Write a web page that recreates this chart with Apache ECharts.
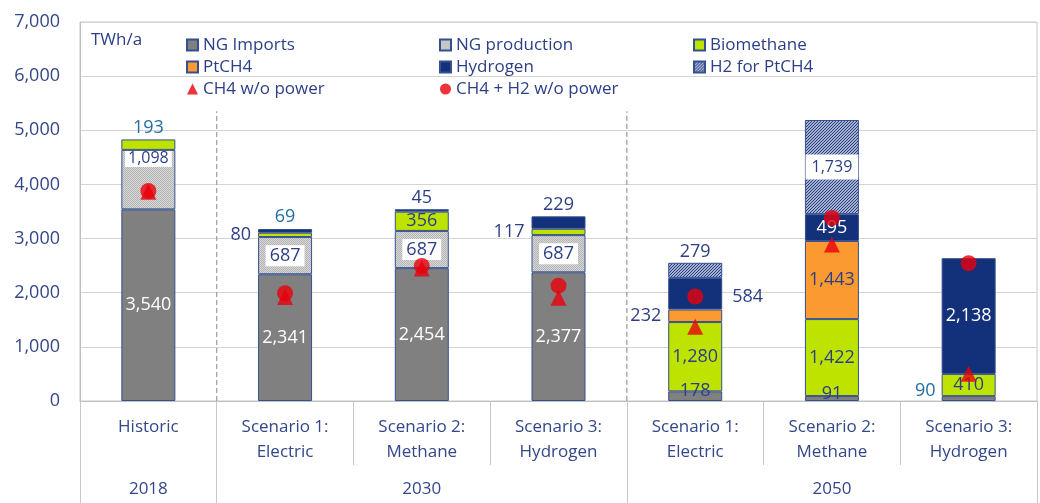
<!DOCTYPE html>
<html>
<head>
<meta charset="utf-8">
<script src="https://cdn.jsdelivr.net/npm/echarts@6/dist/echarts.min.js"></script>
<style>
  html, body { margin: 0; padding: 0; background: #fff; }
  #main { width: 1040px; height: 503px; }
</style>
</head>
<body>
<div id="main"></div>
<script>
// categories and year groups
var categories = ['Historic', 'Scenario 1:\nElectric', 'Scenario 2:\nMethane', 'Scenario 3:\nHydrogen',
                  'Scenario 1:\nElectric', 'Scenario 2:\nMethane', 'Scenario 3:\nHydrogen'];
var years = ['2018', '2030', '2050'];
var yearSizes = [1, 3, 3];
var separatorTop = 5350;

// stacked values, TWh/a (null = no segment)
var ngImports    = [3540, 2341, 2454, 2377, 178, 91, 90];
var ngProduction = [1098, 687, 687, 687, null, null, null];
var biomethane   = [193, 80, 356, 117, 1280, 1422, 410];
var ptch4        = [null, null, null, null, 232, 1443, null];
var hydrogen     = [null, 69, 45, 229, 584, 495, 2138];
var h2ForPtch4   = [null, null, null, null, 279, 1739, null];

// markers
var ch4WoPower   = [3865, 1920, 2445, 1905, 1370, 2890, 505];
var ch4H2WoPower = [3880, 1990, 2495, 2130, 1930, 3380, 2545];

// where each label sits
var labelPlace = {
  'NG Imports':    ['inWhite', 'inWhite', 'inWhite', 'inWhite', 'inLow', 'inLow', 'leftLowTeal'],
  'NG production': ['boxTop', 'box', 'box', 'box', null, null, null],
  'Biomethane':    ['topTeal', 'left', 'in', 'left', 'in', 'in', 'in'],
  'PtCH4':         [null, null, null, null, 'left', 'in', null],
  'Hydrogen':      [null, 'topTeal', 'top', 'top', 'right', 'inWhite', 'inWhite'],
  'H2 for PtCH4':  [null, null, null, null, 'top', 'boxBig', null]
};

var NAVY_TXT = '#2c3f86';
var TEAL_TXT = '#226fa6';
var AXIS_TXT = '#33478a';
var FONT = '"Open Sans", "Noto Sans", sans-serif';

var labelStyles = {
  inWhite:     {position: 'inside', color: '#fff', fontSize: 18},
  inLow:       {position: 'inside', color: NAVY_TXT, fontSize: 18, offset: [0, -5]},
  leftLowTeal: {position: 'left', distance: 6, color: TEAL_TXT, fontSize: 18, offset: [0, -8]},
  in:          {position: 'inside', color: NAVY_TXT, fontSize: 18},
  box:         {position: 'inside', color: NAVY_TXT, fontSize: 18, backgroundColor: '#fff', padding: [2, 4, 1, 4]},
  boxTop:      {position: 'insideTop', distance: 1, color: NAVY_TXT, fontSize: 16, backgroundColor: '#fff', padding: [0, 3, 0, 3]},
  boxBig:      {position: 'inside', color: NAVY_TXT, fontSize: 16, backgroundColor: '#fff', padding: [5, 6, 4, 6]},
  left:        {position: 'left', distance: 7, color: NAVY_TXT, fontSize: 18},
  right:       {position: 'right', distance: 10, color: NAVY_TXT, fontSize: 18, offset: [0, 3]},
  top:         {position: 'top', distance: 2, color: NAVY_TXT, fontSize: 18},
  topTeal:     {position: 'top', distance: 3, color: TEAL_TXT, fontSize: 18}
};

function fmt(v) {
  return Number(v).toLocaleString('en-US');
}

function dotPattern() {
  var c = document.createElement('canvas');
  c.width = 2; c.height = 2;
  var ctx = c.getContext('2d');
  ctx.fillStyle = '#d8d8d8'; ctx.fillRect(0, 0, 2, 2);
  ctx.fillStyle = '#b4b4b4'; ctx.fillRect(0, 0, 1, 1); ctx.fillRect(1, 1, 1, 1);
  return {image: c, repeat: 'repeat'};
}

function hatchPattern() {
  var c = document.createElement('canvas');
  c.width = 3; c.height = 3;
  var ctx = c.getContext('2d');
  ctx.fillStyle = '#dde2ee'; ctx.fillRect(0, 0, 3, 3);
  ctx.strokeStyle = '#233d82';
  ctx.lineWidth = 1.2;
  ctx.beginPath();
  ctx.moveTo(-1, 4); ctx.lineTo(4, -1);
  ctx.moveTo(-2, 2); ctx.lineTo(2, -2);
  ctx.moveTo(1, 5); ctx.lineTo(5, 1);
  ctx.stroke();
  return {image: c, repeat: 'repeat'};
}

function buildData(name, values) {
  return values.map(function (v, i) {
    var place = labelPlace[name][i];
    if (v == null) return null;
    var lab = {show: false};
    if (place) {
      lab = Object.assign({show: true, fontFamily: FONT, formatter: function (p) { return fmt(p.value); }}, labelStyles[place]);
    }
    return {value: v, label: lab};
  });
}

var barDefs = [
  {name: 'NG Imports', data: ngImports, color: '#808080'},
  {name: 'NG production', data: ngProduction, color: dotPattern()},
  {name: 'Biomethane', data: biomethane, color: '#bfe300'},
  {name: 'PtCH4', data: ptch4, color: '#fb9a30'},
  {name: 'Hydrogen', data: hydrogen, color: '#13307a'},
  {name: 'H2 for PtCH4', data: h2ForPtch4, color: hatchPattern()}
];

var series = barDefs.map(function (d) {
  return {
    name: d.name,
    type: 'bar',
    stack: 'total',
    barWidth: 54,
    itemStyle: {color: d.color, borderColor: '#35508f', borderWidth: 1},
    emphasis: {disabled: true},
    data: buildData(d.name, d.data)
  };
});

series.push({
  name: 'CH4 w/o power', type: 'scatter', symbol: 'triangle', symbolSize: 16,
  itemStyle: {color: '#e8000b'}, z: 5, data: ch4WoPower
});
series.push({
  name: 'CH4 + H2 w/o power', type: 'scatter', symbol: 'circle', symbolSize: 16,
  itemStyle: {color: '#e8000b'}, z: 6, data: ch4H2WoPower
});

// year row and group boundaries
var yearRow = [];
var groupStarts = [];
var pos = 0;
for (var g = 0; g < years.length; g++) {
  groupStarts.push(pos);
  for (var k = 0; k < yearSizes[g]; k++) {
    yearRow.push(k === Math.floor((yearSizes[g] - 1) / 2) ? years[g] : '');
  }
  pos += yearSizes[g];
}

// dashed separators between year groups
for (var s = 1; s < groupStarts.length; s++) {
  series.push({
    type: 'line', xAxisIndex: 2, yAxisIndex: 0, symbol: 'none', silent: true, z: 1,
    lineStyle: {color: '#9a9a9a', width: 1.2, type: [5, 3]},
    data: [[groupStarts[s], 0], [groupStarts[s], separatorTop]]
  });
}

var legendBase = {
  orient: 'vertical',
  itemWidth: 11,
  itemHeight: 11,
  itemGap: 0,
  padding: 0,
  selectedMode: false,
  textStyle: {color: NAVY_TXT, fontSize: 17, fontFamily: FONT, lineHeight: 22}
};

var option = {
  animation: false,
  textStyle: {fontFamily: FONT},
  title: {
    text: 'TWh/a', left: 86, top: 27,
    textStyle: {color: NAVY_TXT, fontSize: 17, fontWeight: 'normal', fontFamily: FONT}
  },
  legend: [
    Object.assign({left: 186, top: 34, data: [{name: 'NG Imports', icon: 'rect'}, {name: 'PtCH4', icon: 'rect'}, {name: 'CH4 w/o power', icon: 'triangle'}]}, legendBase),
    Object.assign({left: 439, top: 34, data: [{name: 'NG production', icon: 'rect'}, {name: 'Hydrogen', icon: 'rect'}, {name: 'CH4 + H2 w/o power', icon: 'circle'}]}, legendBase),
    Object.assign({left: 693, top: 34, data: [{name: 'Biomethane', icon: 'rect'}, {name: 'H2 for PtCH4', icon: 'rect'}]}, legendBase)
  ],
  grid: {
    left: 80, right: 3, top: 22, bottom: 102,
    show: true, borderColor: '#c8c8c8', borderWidth: 1
  },
  xAxis: [{
    type: 'category',
    data: categories,
    axisLine: {lineStyle: {color: '#bfbfbf'}},
    axisTick: {show: true, length: 64, interval: 0, lineStyle: {color: '#c8c8c8'}},
    axisLabel: {interval: 0, margin: 14, color: AXIS_TXT, fontSize: 17, lineHeight: 25, fontFamily: FONT}
  }, {
    type: 'category',
    position: 'bottom',
    data: yearRow,
    axisLine: {show: false},
    axisTick: {
      show: true, length: 102, lineStyle: {color: '#c8c8c8'},
      interval: function (index) { return groupStarts.indexOf(index) >= 0; }
    },
    axisLabel: {interval: 0, margin: 80, color: AXIS_TXT, fontSize: 17, fontFamily: FONT},
    splitLine: {show: false}
  }, {
    type: 'value', min: 0, max: categories.length, show: false
  }],
  yAxis: {
    type: 'value',
    min: 0, max: 7000, interval: 1000,
    axisLine: {show: true, lineStyle: {color: '#bfbfbf'}},
    axisTick: {show: false},
    splitLine: {lineStyle: {color: '#d4d4d4'}},
    axisLabel: {margin: 20, color: AXIS_TXT, fontSize: 18, fontFamily: FONT, formatter: function (v) { return fmt(v); }}
  },
  series: series
};

var chart = echarts.init(document.getElementById('main'));
chart.setOption(option);
</script>
</body>
</html>
